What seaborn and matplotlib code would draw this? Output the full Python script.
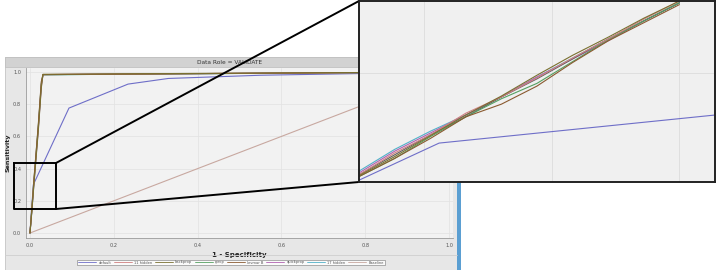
import numpy as np
import pandas as pd
import matplotlib
matplotlib.use("Agg")
import matplotlib.pyplot as plt
from matplotlib.patches import Rectangle
from matplotlib.lines import Line2D
import seaborn as sns

sns.set_theme(style="white")
plt.rcParams['font.family'] = ['DejaVu Sans']

# ---------------- data ----------------
models = ["default", "11 hidden", "backprop", "rprop", "levmar B", "quickprop", "17 hidden", "Baseline"]
colors = ["#6e6ec8", "#d08080", "#7a7030", "#55a060", "#8a5a30", "#b060b0", "#50b0c8", "#c8a8a0"]
draw_order = ["Baseline", "default", "17 hidden", "quickprop", "rprop", "11 hidden", "levmar B", "backprop"]

# main ROC curves (1 - specificity, sensitivity)
fpr_default = [0.0, 0.008, 0.093, 0.234, 0.33, 0.55, 1.0]
tpr_default = [0.0, 0.30, 0.776, 0.925, 0.96, 0.98, 1.0]
fpr_steep = [0.0, 0.004, 0.010, 0.020, 0.027, 0.031, 1.0]
tpr_steep_a = [0.0, 0.13, 0.34, 0.66, 0.92, 0.984, 1.0]
tpr_steep_b = [0.0, 0.12, 0.32, 0.64, 0.90, 0.986, 1.0]
tpr_steep_c = [0.0, 0.14, 0.35, 0.67, 0.93, 0.983, 1.0]
tpr_steep_d = [0.0, 0.13, 0.35, 0.68, 0.94, 0.984, 1.0]
tpr_steep_e = [0.0, 0.13, 0.33, 0.65, 0.91, 0.984, 1.0]
tpr_steep_f = [0.0, 0.12, 0.33, 0.66, 0.92, 0.983, 1.0]
fpr_base = [0.0, 1.0]
tpr_base = [0.0, 1.0]

# zoomed inset curves (normalised inset coordinates)
zx = [0.0, 0.1, 0.2, 0.3, 0.4, 0.5, 0.6, 0.7, 0.8, 0.9]
z_11hidden = [0.04, 0.16, 0.26, 0.38, 0.47, 0.575, 0.685, 0.79, 0.90, 1.00]
z_backprop = [0.035, 0.14, 0.255, 0.37, 0.475, 0.59, 0.70, 0.80, 0.905, 1.00]
z_rprop = [0.03, 0.13, 0.25, 0.36, 0.46, 0.545, 0.665, 0.785, 0.89, 0.99]
z_levmar = [0.03, 0.13, 0.24, 0.36, 0.43, 0.53, 0.66, 0.78, 0.88, 0.98]
z_quickprop = [0.05, 0.17, 0.27, 0.37, 0.47, 0.58, 0.68, 0.78, 0.89, 0.99]
z_17hidden = [0.06, 0.18, 0.28, 0.37, 0.47, 0.58, 0.685, 0.79, 0.89, 0.99]
z_extra = [0.04, 0.15, 0.26, 0.36, 0.47, 0.57, 0.68, 0.79, 0.89, 0.99]
zx_default = [0.0, 0.225, 1.0]
z_default = [0.01, 0.215, 0.37]

# ---------------- figure ----------------
W, H = 716, 270
fig = plt.figure(figsize=(W / 100, H / 100), dpi=100)
fig.patch.set_facecolor("white")

def fx(x):
    return x / W

def fy(y):
    return 1 - y / H

def rect_px(x0, y0, x1, y1, **kw):
    fig.add_artist(Rectangle((fx(x0), fy(y1)), fx(x1) - fx(x0), fy(y0) - fy(y1),
                             transform=fig.transFigure, **kw))

# SAS panel background
rect_px(5, 57, 457, 270, facecolor="#e7e7e7", edgecolor="#c4c4c4", lw=0.6, zorder=0)
rect_px(5, 57, 457, 67, facecolor="#d2d2d2", edgecolor="#bdbdbd", lw=0.5, zorder=0)
fig.text(fx(230), fy(62), "Data Role = VALIDATE", fontsize=4.2, ha="center", va="center", color="#333333")
rect_px(457, 178, 461, 270, facecolor="#5b9fd2", edgecolor="none", zorder=0)

# main axes
ax = fig.add_axes([fx(26), fy(238), fx(453) - fx(26), fy(68) - fy(238)])
ax.set_facecolor("#f2f2f2")

rows = []
def add(name, xs, ys, part):
    for i, (a, b) in enumerate(zip(xs, ys)):
        rows.append(dict(model=name, x=a, y=b, order=i, part=part))

add("Baseline", fpr_base, tpr_base, "main")
add("default", fpr_default, tpr_default, "main")
add("17 hidden", fpr_steep, tpr_steep_f, "main")
add("quickprop", fpr_steep, tpr_steep_e, "main")
add("rprop", fpr_steep, tpr_steep_c, "main")
add("11 hidden", fpr_steep, tpr_steep_a, "main")
add("levmar B", fpr_steep, tpr_steep_d, "main")
add("backprop", fpr_steep, tpr_steep_b, "main")

add("default", zx_default, z_default, "zoom")
add("17 hidden", zx, z_17hidden, "zoom")
add("quickprop", zx, z_quickprop, "zoom")
add("extra", zx, z_extra, "zoom")
add("rprop", zx, z_rprop, "zoom")
add("11 hidden", zx, z_11hidden, "zoom")
add("levmar B", zx, z_levmar, "zoom")
add("backprop", zx, z_backprop, "zoom")
df = pd.DataFrame(rows)

pal = dict(zip(models, colors))
pal["extra"] = "#606060"

main = df[df.part == "main"]
for m in draw_order:
    sub = main[main.model == m]
    sns.lineplot(data=sub, x="x", y="y", color=pal[m], sort=False, estimator=None,
                 lw=0.8, ax=ax, legend=False)

ax.set_xlim(-0.0095, 1.0095)
ax.set_ylim(-0.031, 1.025)
ticks = [0.0, 0.2, 0.4, 0.6, 0.8, 1.0]
ax.set_xticks(ticks)
ax.set_yticks(ticks)
ax.set_xticklabels([f"{t:.1f}" for t in ticks])
ax.set_yticklabels([f"{t:.1f}" for t in ticks])
ax.tick_params(axis="both", labelsize=3.6, colors="#555555", length=2, width=0.5, pad=1.5, direction="out")
ax.grid(True, color="#e2e2e2", lw=0.5)
for s in ["top", "right"]:
    ax.spines[s].set_visible(False)
for s in ["left", "bottom"]:
    ax.spines[s].set_color("#9a9a9a")
    ax.spines[s].set_linewidth(0.6)
ax.set_xlabel("1 - Specificity", fontsize=5, fontweight="bold", labelpad=3, color="#222222")
ax.set_ylabel("Sensitivity", fontsize=4.6, fontweight="bold", labelpad=2, color="#222222")

# legend
handles = [Line2D([0], [0], color=pal[m], lw=0.6) for m in models]
leg = fig.legend(handles, models, loc="center", bbox_to_anchor=(fx(231), fy(262.5)), ncol=8,
                 fontsize=2.6, frameon=True, handlelength=5.0, handletextpad=0.6, columnspacing=0.7,
                 borderpad=0.25, fancybox=False)
leg.get_frame().set_edgecolor("#777777")
leg.get_frame().set_linewidth(0.5)
leg.get_frame().set_facecolor("white")
for t in leg.get_texts():
    t.set_color("#555555")
fig.add_artist(Line2D([fx(5), fx(457)], [fy(255), fy(255)], transform=fig.transFigure,
                      color="#cfcfcf", lw=0.6))

# source box and connectors
kw = dict(transform=fig.transFigure, color="black", lw=1.4, zorder=20)
fig.add_artist(Line2D([fx(14), fx(56), fx(56), fx(14), fx(14)],
                      [fy(163), fy(163), fy(209), fy(209), fy(163)], **kw))
fig.add_artist(Line2D([fx(56), fx(359)], [fy(163), fy(1)], **kw))
fig.add_artist(Line2D([fx(56), fx(359)], [fy(209), fy(182)], **kw))

# inset axes
ins = fig.add_axes([fx(359), fy(182), fx(715) - fx(359), fy(1) - fy(182)], zorder=25)
ins.set_facecolor("#f0f0f0")
zoom = df[df.part == "zoom"]
sns.lineplot(data=zoom, x="x", y="y", hue="model", palette=pal,
             sort=False, estimator=None, units="model", lw=0.8, ax=ins, legend=False)
ins.set_xlim(0, 1)
ins.set_ylim(0, 1)
ins.set_xticks([0.183, 0.542, 0.899])
ins.set_yticks([0.604])
ins.set_xticklabels([])
ins.set_yticklabels([])
ins.tick_params(length=0)
ins.grid(True, color="#dcdcdc", lw=0.6)
ins.set_xlabel("")
ins.set_ylabel("")
for s in ins.spines.values():
    s.set_color("#222222")
    s.set_linewidth(1.4)

fig.savefig("out.png", dpi=100, facecolor="white")
